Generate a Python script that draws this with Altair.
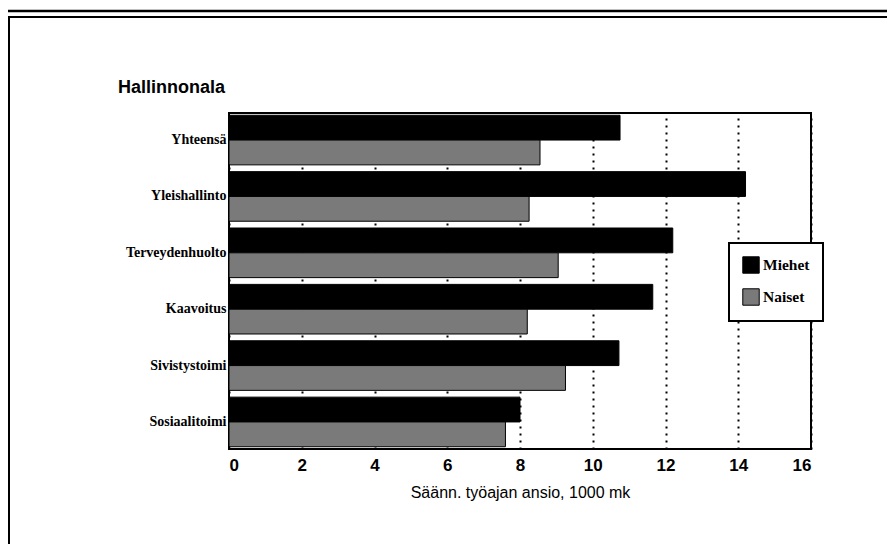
import altair as alt
import pandas as pd

categories = ["Yhteensä", "Yleishallinto", "Terveydenhuolto", "Kaavoitus", "Sivistystoimi", "Sosiaalitoimi"]
miehet = [10.75, 14.2, 12.2, 11.65, 10.72, 8.0]
naiset = [8.55, 8.25, 9.05, 8.2, 9.25, 7.6]
series = ["Miehet", "Naiset"]
x_ticks = [0, 2, 4, 6, 8, 10, 12, 14, 16]

rows = []
for c, m, n in zip(categories, miehet, naiset):
    rows.append({"ala": c, "sukupuoli": "Miehet", "ansio": m})
    rows.append({"ala": c, "sukupuoli": "Naiset", "ansio": n})
df = pd.DataFrame(rows)

W, H = 582, 336

bars = alt.Chart(df).mark_bar(stroke="black", strokeWidth=1).encode(
    x=alt.X("ansio:Q", scale=alt.Scale(domain=[0, 16], nice=False),
            axis=alt.Axis(values=x_ticks, title="Säänn. työajan ansio, 1000 mk",
                          grid=True, gridDash=[2, 5], gridColor="black", gridWidth=2,
                          gridOpacity=1, ticks=False, domain=False,
                          labelFont="Liberation Sans", labelFontSize=17, labelFontWeight="bold",
                          labelColor="black", labelPadding=8,
                          titleFont="Liberation Sans", titleFontSize=16, titleFontWeight="normal",
                          titleColor="black", titlePadding=11)),
    y=alt.Y("ala:N", sort=categories,
            scale=alt.Scale(paddingInner=0.12, paddingOuter=0.04),
            axis=alt.Axis(title=None, ticks=False, domain=False, labelPadding=3,
                          labelFont="Liberation Serif", labelFontSize=14,
                          labelFontWeight="bold", labelColor="black")),
    yOffset=alt.YOffset("sukupuoli:N", sort=series, scale=alt.Scale(paddingInner=0, paddingOuter=0)),
    color=alt.Color("sukupuoli:N", sort=series,
                    scale=alt.Scale(domain=series, range=["#000000", "#7a7a7a"]),
                    legend=alt.Legend(title=None, orient="none", legendX=500, legendY=130,
                                      symbolType="square", symbolSize=270,
                                      symbolStrokeColor="black", symbolStrokeWidth=1,
                                      labelFont="Liberation Serif", labelFontSize=15.5,
                                      labelFontWeight="bold", labelColor="black",
                                      labelOffset=3, rowPadding=10, padding=13,
                                      fillColor="white", strokeColor="black")),
)

title = alt.Chart(pd.DataFrame({"t": ["Hallinnonala"]})).mark_text(
    align="left", baseline="middle", font="Liberation Sans", fontSize=18,
    fontWeight="bold", color="black"
).encode(x=alt.value(-111), y=alt.value(-25), text="t:N")

frame_top1 = alt.Chart(pd.DataFrame({"a": [1]})).mark_rule(color="black", strokeWidth=2.5).encode(
    x=alt.value(-221), x2=alt.value(660), y=alt.value(-102))
frame_top2 = alt.Chart(pd.DataFrame({"a": [1]})).mark_rule(color="black", strokeWidth=2).encode(
    x=alt.value(-221), x2=alt.value(660), y=alt.value(-96))
frame_left = alt.Chart(pd.DataFrame({"a": [1]})).mark_rule(color="black", strokeWidth=2).encode(
    x=alt.value(-220), y=alt.value(-96), y2=alt.value(445))

chart = alt.layer(bars, title, frame_top1, frame_top2, frame_left).properties(
    width=W, height=H,
    autosize=alt.AutoSizeParams(type="none"),
    padding={"left": 221, "top": 105, "right": 76, "bottom": 95},
).configure(background="white"
).configure_view(stroke="black", strokeWidth=2
).configure_legend(strokeWidth=2)

chart.save("out.html", embed_options={"renderer": "svg", "actions": False})
